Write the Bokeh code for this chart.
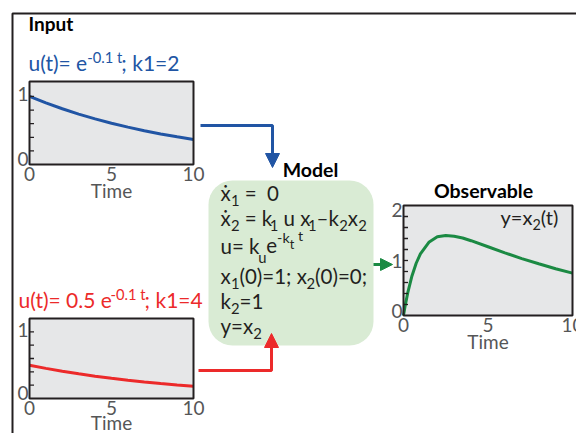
from bokeh.plotting import figure
from bokeh.models import Range1d, Arrow, NormalHead, BoxAnnotation
from bokeh.core.properties import value
from bokeh.embed import file_html
from bokeh.resources import INLINE

# ---------------- data ----------------
T_IN = [0, 1, 2, 3, 4, 5, 6, 7, 8, 9, 10]
U_BLUE = [1.00, 0.905, 0.819, 0.741, 0.670, 0.607, 0.549, 0.497, 0.449, 0.407, 0.368]
U_RED = [0.50, 0.452, 0.409, 0.370, 0.335, 0.303, 0.274, 0.248, 0.225, 0.203, 0.184]
T_OUT = [0, 0.1, 0.25, 0.5, 0.75, 1, 1.5, 2, 2.5, 3, 3.5, 4, 5, 6, 7, 8, 9, 10]
Y_OUT = [0, 0.18, 0.41, 0.72, 0.95, 1.12, 1.33, 1.43, 1.455, 1.44, 1.41, 1.36,
         1.25, 1.14, 1.035, 0.94, 0.85, 0.77]
X_TICKS = [0, 5, 10]
X_TICK_LABELS = ["0", "5", "10"]
IN_Y_LABELS = ["0", "1"]
OUT_Y_LABELS = ["0", "1", "2"]
IN_MINOR = [0.2, 0.4, 0.6, 0.8, 1.0]
OUT_MINOR = [0.2, 0.4, 0.6, 0.8, 1.0, 1.2, 1.4, 1.6, 1.8]

# ---------------- styles ----------------
FONT = "Lato"
DARK = "#231f20"
GRAY = "#555657"
BLUE = "#2155a4"
RED = "#ec2a2a"
GREEN = "#1b8a43"
BOXC = "#d9ebd4"
PANEL = "#e6e7e8"
S = "\u00a0"  # non-breaking space (kept by svg text)
MID = 0.37    # distance baseline -> visual middle, in em

W = {S: 0.193, '(': 0.29, ')': 0.29, '=': 0.58, ';': 0.25, '.': 0.23, '-': 0.37,
     '–': 0.6, 'e': 0.524, 'k': 0.509, 't': 0.366, 'u': 0.555, 'x': 0.508,
     'y': 0.508, 'ẋ': 0.508}
for d in "0123456789":
    W[d] = 0.58


def twidth(s, size):
    return sum(W.get(c, 0.55) for c in s) * size


p = figure(width=576, height=433, x_range=Range1d(0, 576), y_range=Range1d(433, 0),
           toolbar_location=None, output_backend="svg", min_border=0,
           x_axis_location=None, y_axis_location=None)
p.xgrid.visible = False
p.ygrid.visible = False
p.outline_line_color = None
p.background_fill_color = "white"
p.border_fill_color = "white"


def label(x, base, txt, size, color, align="left", bold=False):
    p.text(x=[x], y=[base - MID * size], text=[txt], text_font=value(FONT),
           text_font_size=f"{size:.1f}px", text_color=color,
           text_font_style="bold" if bold else "normal",
           text_baseline="middle", text_align=align)


def runs(x, base, parts, size, color):
    """parts: (text, size ratio, baseline shift in px)"""
    cx = x
    for txt, r, dy in parts:
        fs = size * r
        label(cx, base + dy, txt.replace(" ", S), fs, color)
        cx += twidth(txt.replace(" ", S), fs)


def panel(frame, xr, yr, t, vals, color, minor, ylabels, ylab_off, lab_base=17, time_base=33):
    x0, x1, ytop, ybot = frame
    sp = p.subplot(x_source=Range1d(*xr), y_source=Range1d(*yr),
                   x_target=Range1d(x0, x1), y_target=Range1d(ybot, ytop))
    sp.quad(left=[xr[0]], right=[xr[1]], bottom=[yr[0]], top=[yr[1]],
            fill_color=PANEL, line_color=None)
    sp.line(t, vals, line_color=color, line_width=3)
    tl = 4.5 * (xr[1] - xr[0]) / (x1 - x0)
    sp.segment(x0=[xr[0]] * len(minor), y0=minor, x1=[xr[0] + tl] * len(minor),
               y1=minor, line_color=DARK, line_width=1.3)
    sp.quad(left=[xr[0]], right=[xr[1]], bottom=[yr[0]], top=[yr[1]],
            fill_color=None, line_color=DARK, line_width=2)
    fs = 19
    sp.text(x=X_TICKS, y=[yr[0]] * len(X_TICKS), text=X_TICK_LABELS,
            text_align="center", text_baseline="middle", y_offset=lab_base - MID * fs,
            text_font=value(FONT), text_font_size=f"{fs}px", text_color=GRAY)
    sp.text(x=[(xr[0] + xr[1]) / 2], y=[yr[0]], text=["Time"],
            text_align="center", text_baseline="middle", y_offset=time_base - MID * fs,
            text_font=value(FONT), text_font_size=f"{fs}px", text_color=GRAY)
    for lab, off in zip(ylabels, ylab_off):
        sp.text(x=[xr[0]], y=[float(lab)], text=[lab], text_align="right",
                text_baseline="middle", x_offset=-1, y_offset=off,
                text_font=value(FONT), text_font_size=f"{fs}px", text_color=GRAY)


# outer border
p.line([12, 12, 576], [433, 13, 13], line_color=DARK, line_width=2)

# model box
p.add_layout(BoxAnnotation(left=208, right=373, top=180, bottom=345, fill_color=BOXC,
                           fill_alpha=1, line_color=None, border_radius=24,
                           level="underlay"))

# panels
panel((29, 193, 81, 164), (0, 10), (0, 1.22), T_IN, U_BLUE, BLUE, IN_MINOR,
      IN_Y_LABELS, [-6, -2])
panel((29, 193, 318, 398), (0, 10), (0, 1.2), T_IN, U_RED, RED, IN_MINOR,
      IN_Y_LABELS, [-6, -2], lab_base=17, time_base=31)
panel((403, 572, 205, 315), (0, 10), (0, 2), T_OUT, Y_OUT, GREEN, OUT_MINOR,
      OUT_Y_LABELS, [-5, 0, 4])

# titles
label(28, 30, "Input", 19, "#000000", bold=True)
label(310, 176, "Model", 19.5, "#000000", align="center", bold=True)
label(483, 197, "Observable", 19.5, "#000000", align="center", bold=True)

# input formulas
SUP = (0.7, -8)
runs(28, 70, [("u(t)= e", 1, 0), ("-0.1 t", *SUP), ("; k1=2", 1, 0)], 21, BLUE)
runs(18, 307, [("u(t)= 0.5 e", 1, 0), ("-0.1 t", *SUP), ("; k1=4", 1, 0)], 21, RED)

# model equations
MX = 220
MF = 20.5
SUB = (0.72, 5)
runs(MX, 200, [("ẋ", 1, 0), ("1", *SUB), (" =  0", 1, 0)], MF, DARK)
runs(MX, 225, [("ẋ", 1, 0), ("2", *SUB), (" = k", 1, 0), ("1", *SUB), (" u x", 1, 0),
               ("1", *SUB), ("–k", 1, 0), ("2", *SUB), ("x", 1, 0), ("2", *SUB)], MF, DARK)
runs(MX, 253, [("u= k", 1, 0), ("u", 0.72, 9), ("e", 1, 0), ("-k", 0.7, -11),
               ("t", 0.62, -5), (" t", 0.7, -13)], MF, DARK)
runs(MX, 283, [("x", 1, 0), ("1", *SUB), ("(0)=1; x", 1, 0), ("2", *SUB),
               ("(0)=0;", 1, 0)], MF, DARK)
runs(MX, 308, [("k", 1, 0), ("2", *SUB), ("=1", 1, 0)], MF, DARK)
runs(MX, 333, [("y=x", 1, 0), ("2", *SUB)], MF, DARK)

# observable label
runs(500, 224, [("y=x", 1, 0), ("2", *SUB), ("(t)", 1, 0)], 20, DARK)

# arrows
p.line([200, 272, 272], [125, 125, 150], line_color=BLUE, line_width=3)
p.add_layout(Arrow(end=NormalHead(size=14, fill_color=BLUE, line_color=BLUE),
                   x_start=272, y_start=140, x_end=272, y_end=167,
                   line_color=BLUE, line_width=3))
p.line([198, 271, 271], [370, 370, 350], line_color=RED, line_width=3)
p.add_layout(Arrow(end=NormalHead(size=14, fill_color=RED, line_color=RED),
                   x_start=271, y_start=360, x_end=271, y_end=333,
                   line_color=RED, line_width=3))
p.add_layout(Arrow(end=NormalHead(size=12, fill_color=GREEN, line_color=GREEN),
                   x_start=373, y_start=264, x_end=392, y_end=264,
                   line_color=GREEN, line_width=3))

open("out.html", "w").write(file_html(p, INLINE))
